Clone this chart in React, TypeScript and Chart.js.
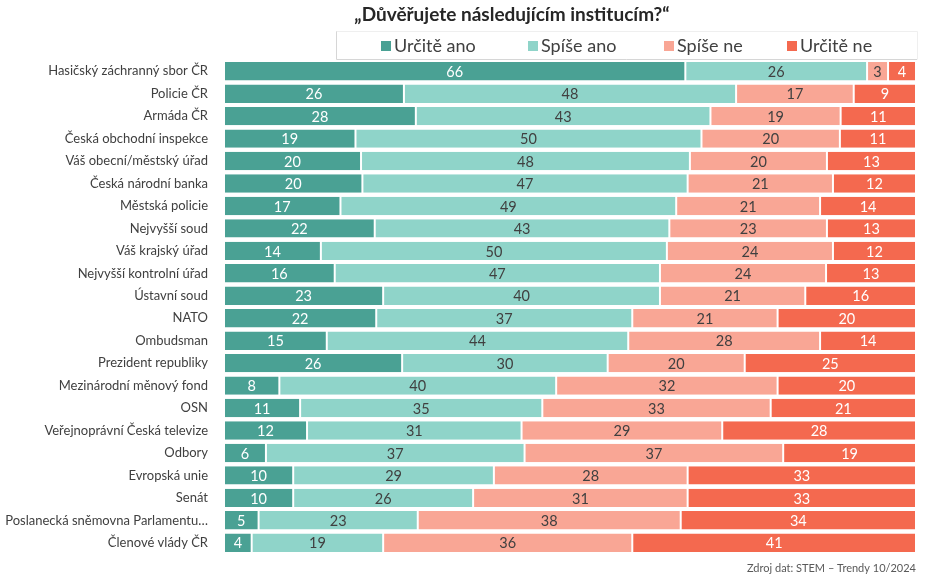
import { useEffect, useRef } from "react";
import { Chart, registerables } from "chart.js";

Chart.register(...registerables);

const categories = [
  "Hasičský záchranný sbor ČR",
  "Policie ČR",
  "Armáda ČR",
  "Česká obchodní inspekce",
  "Váš obecní/městský úřad",
  "Česká národní banka",
  "Městská policie",
  "Nejvyšší soud",
  "Váš krajský úřad",
  "Nejvyšší kontrolní úřad",
  "Ústavní soud",
  "NATO",
  "Ombudsman",
  "Prezident republiky",
  "Mezinárodní měnový fond",
  "OSN",
  "Veřejnoprávní Česká televize",
  "Odbory",
  "Evropská unie",
  "Senát",
  "Poslanecká sněmovna Parlamentu…",
  "Členové vlády ČR",
];

const urciteAno = [66, 26, 28, 19, 20, 20, 17, 22, 14, 16, 23, 22, 15, 26, 8, 11, 12, 6, 10, 10, 5, 4];
const spiseAno = [26, 48, 43, 50, 48, 47, 49, 43, 50, 47, 40, 37, 44, 30, 40, 35, 31, 37, 29, 26, 23, 19];
const spiseNe = [3, 17, 19, 20, 20, 21, 21, 23, 24, 24, 21, 21, 28, 20, 32, 33, 29, 37, 28, 31, 38, 36];
const urciteNe = [4, 9, 11, 11, 13, 12, 14, 13, 12, 13, 16, 20, 14, 25, 20, 21, 28, 19, 33, 33, 34, 41];

const seriesNames = ["Určitě ano", "Spíše ano", "Spíše ne", "Určitě ne"];
const seriesColors = ["#4aa194", "#8fd4c9", "#f9a695", "#f4694f"];
const valueLabelColors = ["#ffffff", "#404040", "#404040", "#ffffff"];

const titleText = "„Důvěřujete následujícím institucím?“";
const sourceText = "Zdroj dat: STEM – Trendy 10/2024";

const FONT = "Lato, 'Open Sans', sans-serif";

export default function App() {
  const canvasRef = useRef<HTMLCanvasElement | null>(null);

  useEffect(() => {
    if (!canvasRef.current) return;
    const series = [urciteAno, spiseAno, spiseNe, urciteNe];
    const totals = categories.map((_, i) => series.reduce((s, arr) => s + arr[i], 0));

    const decorPlugin = {
      id: "decor",
      afterDatasetsDraw(chart: any) {
        const ctx = chart.ctx;
        ctx.save();
        chart.data.datasets.forEach((ds: any, di: number) => {
          const meta = chart.getDatasetMeta(di);
          meta.data.forEach((el: any, i: number) => {
            const cx = (el.x + el.base) / 2;
            ctx.fillStyle = valueLabelColors[di];
            ctx.font = `14.5px ${FONT}`;
            ctx.textAlign = "center";
            ctx.textBaseline = "middle";
            ctx.fillText(String(series[di][i]), cx, el.y + 1);
          });
        });
        ctx.restore();
      },
      afterDraw(chart: any) {
        const ctx = chart.ctx;
        ctx.save();
        ctx.fillStyle = "#262626";
        ctx.font = `bold 19px ${FONT}`;
        ctx.textAlign = "center";
        ctx.textBaseline = "middle";
        ctx.fillText(titleText, 512, 15);

        ctx.strokeStyle = "#d6d6d6";
        ctx.lineWidth = 1;
        ctx.beginPath();
        ctx.moveTo(336.5, 31);
        ctx.lineTo(336.5, 59.5);
        ctx.lineTo(917, 59.5);
        ctx.stroke();
        ctx.strokeStyle = "#efefef";
        ctx.beginPath();
        ctx.moveTo(336.5, 31.5);
        ctx.lineTo(917.5, 31.5);
        ctx.lineTo(917.5, 59.5);
        ctx.stroke();

        const legendX = [381, 528, 664, 787];
        ctx.font = `18px ${FONT}`;
        ctx.textAlign = "left";
        ctx.textBaseline = "middle";
        seriesNames.forEach((name, k) => {
          ctx.fillStyle = seriesColors[k];
          ctx.fillRect(legendX[k], 41, 10, 10);
          ctx.fillStyle = "#404040";
          ctx.fillText(name, legendX[k] + 13, 46);
        });

        ctx.font = `11px ${FONT}`;
        ctx.fillStyle = "#595959";
        ctx.textAlign = "right";
        ctx.fillText(sourceText, 916, 568);
        ctx.restore();
      },
    };

    const chart = new Chart(canvasRef.current, {
      type: "bar",
      data: {
        labels: categories,
        datasets: series.map((arr, k) => ({
          label: seriesNames[k],
          data: arr.map((v, i) => (v / totals[i]) * 100),
          backgroundColor: seriesColors[k],
          borderColor: "#ffffff",
          borderWidth: { left: 1, right: 1, top: 0, bottom: 0 },
          borderSkipped: false,
          barPercentage: 0.82,
          categoryPercentage: 1,
        })),
      },
      options: {
        indexAxis: "y",
        responsive: false,
        animation: false,
        layout: { padding: { top: 60, right: 16, bottom: 27, left: 0 } },
        plugins: {
          legend: { display: false },
          title: { display: false },
          tooltip: { enabled: false },
        },
        scales: {
          x: { display: false, stacked: true, min: 0, max: 100 },
          y: {
            stacked: true,
            grid: { display: false, drawTicks: false },
            border: { display: false },
            ticks: {
              color: "#404040",
              font: { family: FONT, size: 13 },
              padding: 16,
              autoSkip: false,
            },
            afterFit: (s: any) => {
              s.width = 224;
            },
          },
        },
      },
      plugins: [decorPlugin],
    } as any);

    return () => chart.destroy();
  }, []);

  return (
    <div style={{ position: "absolute", left: 0, top: 0, width: 932, height: 581, background: "#fff" }}>
      <canvas ref={canvasRef} width={932} height={581} style={{ display: "block" }} />
    </div>
  );
}
